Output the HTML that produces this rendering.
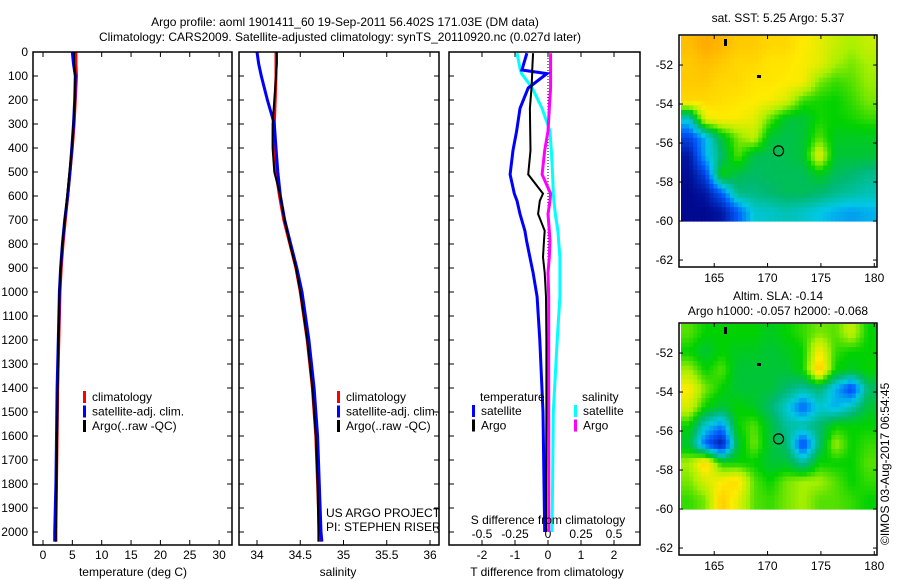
<!DOCTYPE html>
<html><head><meta charset="utf-8"><style>
body{margin:0;background:#fff;}
svg{display:block;font-family:"Liberation Sans",sans-serif;font-size:12px;}
</style></head><body>
<svg id="c" width="900" height="580" xmlns="http://www.w3.org/2000/svg">
<text x="345" y="26" text-anchor="middle">Argo profile: aoml 1901411_60 19-Sep-2011 56.402S 171.03E (DM data)</text>
<text x="340" y="41" text-anchor="middle">Climatology: CARS2009. Satellite-adjusted climatology: synTS_20110920.nc (0.027d later)</text>
<text x="778" y="22" text-anchor="middle">sat. SST: 5.25 Argo: 5.37</text>
<text x="778" y="300" text-anchor="middle">Altim. SLA: -0.14</text>
<text x="778" y="315" text-anchor="middle">Argo h1000: -0.057 h2000: -0.068</text>
<text transform="translate(889,545) rotate(-90)">©IMOS 03-Aug-2017 06:54:45</text>
</svg>
<script>
const depths=[0,50,100,200,300,400,500,600,700,800,900,1000,1200,1400,1600,1800,2000,2040];
const tempClim=[5.6,5.6,5.7,5.5,5.3,5.0,4.6,4.2,3.8,3.4,3.1,2.9,2.7,2.5,2.4,2.3,2.2,2.2];
const tempSat=[5.0,5.2,5.5,5.4,5.2,4.9,4.6,4.2,3.7,3.3,3.0,2.8,2.6,2.4,2.3,2.2,2.0,2.0];
const tempArgo=[5.3,5.3,5.5,5.4,5.2,4.9,4.5,4.1,3.7,3.3,3.0,2.8,2.6,2.5,2.4,2.3,2.2,2.2];
const salClim=[34.22,34.22,34.22,34.21,34.2,34.2,34.22,34.26,34.31,34.38,34.45,34.5,34.58,34.64,34.68,34.7,34.72,34.72];
const salSat=[34.0,34.02,34.05,34.12,34.2,34.22,34.24,34.27,34.32,34.39,34.46,34.52,34.6,34.66,34.7,34.72,34.74,34.75];
const salArgo=[34.23,34.23,34.22,34.2,34.18,34.18,34.2,34.27,34.32,34.38,34.45,34.5,34.58,34.64,34.68,34.7,34.71,34.71];
const dDepths=[5,75,90,150,235,330,410,510,590,620,675,745,785,855,920,1020,1200,1500,1800,2000];
const dTsat=[-0.64,-0.79,-0.03,-0.6,-0.85,-0.95,-1.06,-1.15,-1.02,-0.94,-0.85,-0.7,-0.65,-0.55,-0.45,-0.33,-0.25,-0.15,-0.12,-0.1];
const dTargo=[-0.45,-0.48,-0.48,-0.5,-0.55,-0.54,-0.53,-0.6,-0.15,-0.25,-0.3,-0.1,-0.12,-0.15,-0.1,-0.06,-0.05,-0.05,-0.06,-0.06];
const dSsat=[-0.235,-0.21,-0.2,-0.12,-0.045,0.015,0.025,0.035,0.04,0.045,0.055,0.075,0.08,0.09,0.09,0.09,0.07,0.04,0.035,0.03];
const dSargo=[0.02,0.02,0.02,0.02,0.01,0,-0.025,-0.045,0.02,0.015,0,0.01,0.015,0.01,0,0.005,0.005,0.005,0.005,0.005];
const depthTicks=[0,100,200,300,400,500,600,700,800,900,1000,1100,1200,1300,1400,1500,1600,1700,1800,1900,2000];
const tempTicks=[0,5,10,15,20,25,30];
const salTicks=[34,34.5,35,35.5,36];
const dTTicks=[-2,-1,0,1,2];
const dSTicks=[-0.5,-0.25,0,0.25,0.5];
const lonTicks=[165,170,175,180];
const latTicks=[-52,-54,-56,-58,-60,-62];
const sstGrid=[
[0.82,0.85,0.83,0.8,0.8,0.78,0.78,0.75,0.72,0.68,0.65,0.68],
[0.8,0.82,0.8,0.78,0.78,0.76,0.76,0.74,0.72,0.65,0.62,0.65],
[0.8,0.8,0.78,0.78,0.76,0.76,0.75,0.74,0.62,0.58,0.6,0.64],
[0.78,0.78,0.77,0.76,0.75,0.74,0.7,0.58,0.56,0.55,0.58,0.62],
[0.35,0.72,0.75,0.74,0.72,0.6,0.5,0.5,0.56,0.55,0.56,0.58],
[0.15,0.3,0.5,0.62,0.68,0.5,0.48,0.5,0.6,0.52,0.52,0.52],
[0.05,0.3,0.45,0.6,0.48,0.47,0.48,0.5,0.72,0.5,0.5,0.5],
[0.03,0.15,0.55,0.48,0.46,0.47,0.47,0.47,0.52,0.47,0.45,0.42],
[0.02,0.05,0.2,0.43,0.43,0.45,0.47,0.47,0.45,0.42,0.4,0.38],
[0.02,0.02,0.05,0.2,0.35,0.36,0.38,0.36,0.33,0.3,0.28,0.3]];
const slaGrid=[
[0.6,0.55,0.55,0.55,0.55,0.52,0.55,0.58,0.62,0.6,0.68,0.55],
[0.55,0.5,0.55,0.52,0.52,0.5,0.52,0.55,0.75,0.58,0.55,0.55],
[0.65,0.55,0.6,0.5,0.5,0.5,0.5,0.55,0.82,0.55,0.52,0.55],
[0.75,0.62,0.55,0.5,0.5,0.5,0.45,0.4,0.45,0.3,0.15,0.45],
[0.7,0.55,0.5,0.55,0.52,0.45,0.35,0.2,0.35,0.3,0.38,0.5],
[0.55,0.35,0.25,0.55,0.6,0.5,0.4,0.4,0.45,0.55,0.55,0.55],
[0.5,0.2,0.05,0.5,0.62,0.5,0.45,0.15,0.45,0.65,0.55,0.58],
[0.65,0.8,0.55,0.55,0.55,0.5,0.5,0.4,0.55,0.55,0.55,0.6],
[0.62,0.7,0.75,0.78,0.6,0.55,0.62,0.65,0.65,0.6,0.55,0.58],
[0.58,0.62,0.8,0.72,0.6,0.58,0.62,0.65,0.6,0.6,0.58,0.55]];

const svg=document.getElementById('c');
const NS='http://www.w3.org/2000/svg';
function mk(tag,attrs,parent){const e=document.createElementNS(NS,tag);for(const k in attrs)e.setAttribute(k,attrs[k]);(parent||svg).appendChild(e);return e;}
function txt(x,y,s,anchor,name){const t=mk('text',{x:x,y:y,'text-anchor':anchor||'start'});t.textContent=s;


return t;}
const TOP=52,BOT=545;
const yD=d=>TOP+d*0.24;
function box(x0,x1,y0,y1,name){const r=mk('rect',{x:x0,y:y0,width:x1-x0,height:y1-y0,fill:'none',stroke:'#000','stroke-width':1.5});

}
function line(xs,ds,sx,color,w,name,dash){let p='';xs.forEach((v,i)=>{p+=(i?'L':'M')+sx(v).toFixed(1)+','+yD(ds[i]).toFixed(1);});
const e=mk('path',{d:p,fill:'none',stroke:color,'stroke-width':w});if(dash)e.setAttribute('stroke-dasharray',dash);

}
function xticks(ticks,sx,labelY,name,top){ticks.forEach(t=>{const x=sx(t);mk('line',{x1:x,x2:x,y1:BOT,y2:BOT-5,stroke:'#000'});if(top)mk('line',{x1:x,x2:x,y1:TOP,y2:TOP+5,stroke:'#000'});
if(labelY)txt(x,labelY,String(t),'middle',name);});}
function yticks(x0,x1){depthTicks.forEach(d=>{const y=yD(d);mk('line',{x1:x0,x2:x0+5,y1:y,y2:y,stroke:'#000'});mk('line',{x1:x1,x2:x1-5,y1:y,y2:y,stroke:'#000'});});}
function legend(x,y,items,pre){items.forEach((it,i)=>{const yy=y+i*14.5;mk('rect',{x:x,y:yy-10,width:3,height:12,fill:it[1]});txt(x+9,yy,it[0],'start',pre+'-'+i);});}

// Panel 1 temperature
const sxT=v=>43+v*5.87;
yticks(33,232);
depthTicks.forEach(d=>txt(28,yD(d)+4,String(d),'end','depth-tick-label'));
xticks(tempTicks,sxT,559,'temp-tick-label',true);
line(tempClim,depths,sxT,'#f00',3,'temp-climatology-line');
line(tempSat,depths,sxT,'#00f',3,'temp-satellite-line');
line(tempArgo,depths,sxT,'#000',2,'temp-argo-line');
box(33,232,TOP,BOT,'temperature-panel');
txt(133,576,'temperature (deg C)','middle','temperature-axis-title');
legend(83,401,[['climatology','#f00'],['satellite-adj. clim.','#00f'],['Argo(..raw -QC)','#000']],'temp-legend-entry');

// Panel 2 salinity
const sxS=v=>257+(v-34)*86.5;
yticks(239,439);
xticks(salTicks,sxS,559,'salinity-tick-label',true);
line(salClim,depths,sxS,'#f00',3,'salinity-climatology-line');
line(salSat,depths,sxS,'#00f',3,'salinity-satellite-line');
line(salArgo,depths,sxS,'#000',2,'salinity-argo-line');
box(239,439,TOP,BOT,'salinity-panel');
txt(338,576,'salinity','middle','salinity-axis-title');
legend(337,401,[['climatology','#f00'],['satellite-adj. clim.','#00f'],['Argo(..raw -QC)','#000']],'salinity-legend-entry');
txt(326,517,'US ARGO PROJECT','start','project-label');
txt(326,531,'PI: STEPHEN RISER','start','pi-label');

// Panel 3 differences
const sxD=v=>548+v*33;
const sxDS=v=>548+v*132;
yticks(449,640);
xticks(dTTicks,sxD,559,'tdiff-tick-label',true);
dSTicks.forEach(t=>txt(sxDS(t),538,String(t),'middle','sdiff-tick-label'));
mk('line',{x1:548,x2:548,y1:yD(0),y2:yD(2000),stroke:'#000','stroke-dasharray':'1,2'});
line(dSsat,dDepths,sxDS,'#0ff',3,'sdiff-satellite-line');
line(dSargo,dDepths,sxDS,'#f0f',3,'sdiff-argo-line');
line(dTsat,dDepths,sxD,'#00f',3,'tdiff-satellite-line');
line(dTargo,dDepths,sxD,'#000',2,'tdiff-argo-line');
box(449,640,TOP,BOT,'difference-panel');
txt(547,576,'T difference from climatology','middle','tdiff-axis-title');
txt(548,524,'S difference from climatology','middle','sdiff-axis-title');
txt(480,401,'temperature','start','tdiff-legend-heading');
txt(582,401,'salinity','start','sdiff-legend-heading');
legend(472,415,[['satellite','#00f'],['Argo','#000']],'tdiff-legend-entry');
legend(574,415,[['satellite','#0ff'],['Argo','#f0f']],'sdiff-legend-entry');

// Maps
const anchors=[[0,[0,0,130]],[0.2,[0,90,255]],[0.33,[0,200,230]],[0.45,[0,185,110]],[0.55,[0,210,0]],[0.65,[170,240,0]],[0.75,[255,235,0]],[0.85,[255,170,0]],[1,[230,40,0]]];
function cmap(v){for(let i=1;i<anchors.length;i++){if(v<=anchors[i][0]){const a=anchors[i-1],b=anchors[i];const f=(v-a[0])/(b[0]-a[0]);
return 'rgb('+a[1].map((c,k)=>Math.round(c+(b[1][k]-c)*f)).join(',')+')';}}return 'rgb(230,40,0)';}
function sample(grid,r,c){const nr=grid.length,nc=grid[0].length;r=Math.max(0,Math.min(nr-1,r));c=Math.max(0,Math.min(nc-1,c));
const r0=Math.floor(r),c0=Math.floor(c),r1=Math.min(nr-1,r0+1),c1=Math.min(nc-1,c0+1),fr=r-r0,fc=c-c0;
return grid[r0][c0]*(1-fr)*(1-fc)+grid[r0][c1]*(1-fr)*fc+grid[r1][c0]*fr*(1-fc)+grid[r1][c1]*fr*fc;}
function map(y0,grid,name){const x0=679,x1=877,y1=y0+232;
const sx=lon=>679+(lon-161.7)*10.67;const sy=lat=>y0+(-50.46-lat)*19.5;
const dx0=681,dx1=876,dy0=y0+1,dy1=sy(-60);const nr=grid.length,nc=grid[0].length;
const S=4,NR=nr*S,NC=nc*S;const cw=(dx1-dx0)/NC,ch=(dy1-dy0)/NR;
for(let i=0;i<NR;i++)for(let j=0;j<NC;j++){const v=sample(grid,(i+0.5)/S-0.5,(j+0.5)/S-0.5);
const r=mk('rect',{x:(dx0+j*cw).toFixed(1),y:(dy0+i*ch).toFixed(1),width:(cw+0.6).toFixed(1),height:(ch+0.6).toFixed(1),fill:cmap(v)});

}
mk('circle',{cx:sx(171.03),cy:sy(-56.402),r:5,fill:'none',stroke:'#000','stroke-width':1.2});
mk('rect',{x:724,y:y0+4,width:3,height:7,fill:'#000'});
mk('rect',{x:757,y:y0+40,width:4,height:3,fill:'#000'});
box(x0,x1,y0,y1,name);
lonTicks.forEach(l=>{const x=sx(l);mk('line',{x1:x,x2:x,y1:y0,y2:y0+4,stroke:'#000'});mk('line',{x1:x,x2:x,y1:y1,y2:y1-4,stroke:'#000'});txt(x,y1+15,String(l),'middle',name+'-lon-label');});
latTicks.forEach(l=>{const y=sy(l);mk('line',{x1:x0,x2:x0+4,y1:y,y2:y,stroke:'#000'});mk('line',{x1:x1,x2:x1-4,y1:y,y2:y,stroke:'#000'});txt(673,y+4,String(l),'end',name+'-lat-label');});}
map(35,sstGrid,'sst-map');
map(323,slaGrid,'sla-map');
</script>
</body></html>
